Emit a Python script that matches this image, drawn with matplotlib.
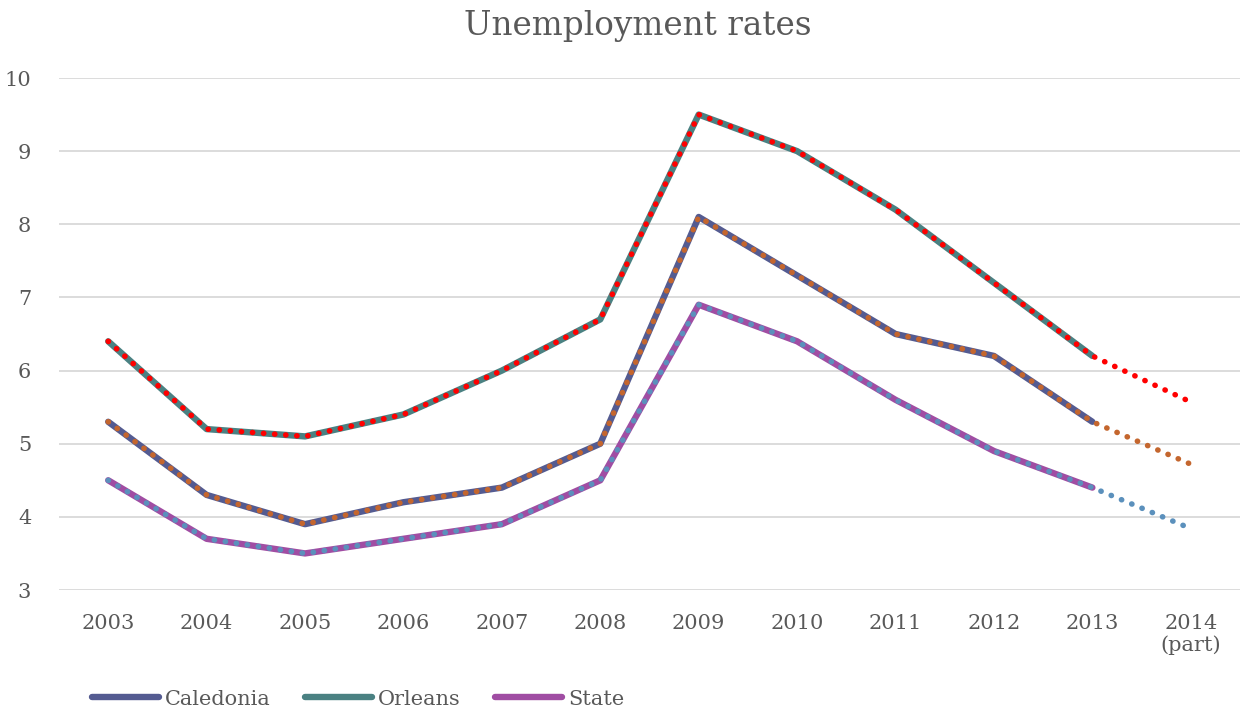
import matplotlib.pyplot as plt

years = ["2003", "2004", "2005", "2006", "2007", "2008", "2009", "2010",
         "2011", "2012", "2013", "2014\n(part)"]
caledonia = [5.3, 4.3, 3.9, 4.2, 4.4, 5.0, 8.1, 7.3, 6.5, 6.2, 5.3, 4.72]
orleans = [6.4, 5.2, 5.1, 5.4, 6.0, 6.7, 9.5, 9.0, 8.2, 7.2, 6.2, 5.57]
state = [4.5, 3.7, 3.5, 3.7, 3.9, 4.5, 6.9, 6.4, 5.6, 4.9, 4.4, 3.84]

series = [
    ("Caledonia", caledonia, "#545B91", "#C4662E"),
    ("Orleans", orleans, "#4A8182", "#FF0000"),
    ("State", state, "#A04DA3", "#5B90BC"),
]

plt.rcParams['font.family'] = ['DejaVu Serif']
txt = "#595959"

fig = plt.figure(figsize=(12.4, 7.09), dpi=100)
ax = fig.add_axes([59 / 1240, 1 - 590 / 709, 1181 / 1240, 512 / 709])

x = list(range(len(years)))
for name, vals, solid, dot in series:
    ax.plot(x[:-1], vals[:-1], color=solid, lw=4.6, solid_capstyle='round',
            solid_joinstyle='round', label=name, zorder=2)
    ax.plot(x, vals, color=dot, lw=4.0, linestyle=(0, (0.05, 1.95)),
            dash_capstyle='round', zorder=3)

ax.set_xlim(-0.5, len(years) - 0.5)
ax.set_ylim(3, 10)
ax.set_yticks(range(3, 11))
ax.set_xticks(x)
ax.set_xticklabels(years, linespacing=1.15)
ax.yaxis.grid(True, color="#D9D9D9", lw=1.3)
ax.set_axisbelow(True)
for s in ax.spines.values():
    s.set_visible(False)
ax.tick_params(axis='both', length=0, labelsize=15, labelcolor=txt)
ax.tick_params(axis='x', pad=17)
ax.tick_params(axis='y', pad=20)

fig.text(0.514, 0.963, "Unemployment rates", ha='center', va='center',
         fontsize=23.5, color=txt)

leg = fig.legend(loc='lower left', bbox_to_anchor=(0.059, -0.026), ncol=3,
                 frameon=False, fontsize=15, handlelength=3.2,
                 handletextpad=0.3, columnspacing=1.65)
for t in leg.get_texts():
    t.set_color(txt)

fig.savefig("out.png", dpi=100)
